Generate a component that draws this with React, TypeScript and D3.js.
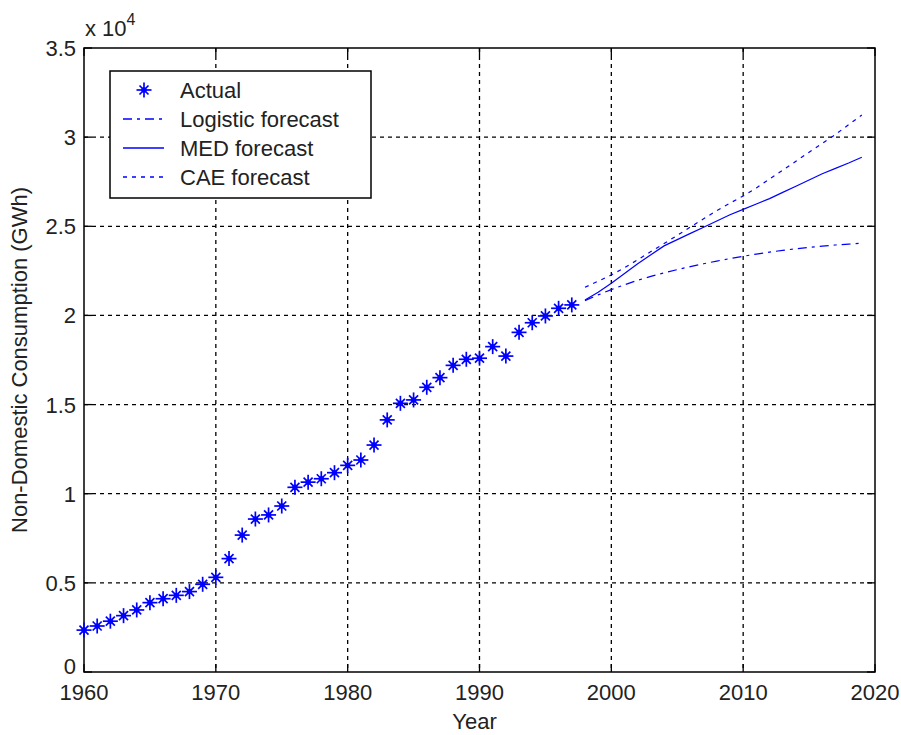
import React, { useEffect, useRef } from 'react';
import * as d3 from 'd3';

// actual consumption 1960-1997 (GWh)
const actualYears = [
  1960, 1961, 1962, 1963, 1964, 1965, 1966, 1967, 1968, 1969,
  1970, 1971, 1972, 1973, 1974, 1975, 1976, 1977, 1978, 1979,
  1980, 1981, 1982, 1983, 1984, 1985, 1986, 1987, 1988, 1989,
  1990, 1991, 1992, 1993, 1994, 1995, 1996, 1997,
];
const actualValues = [
  2350, 2580, 2850, 3160, 3480, 3890, 4110, 4300, 4510, 4920,
  5310, 6360, 7680, 8580, 8810, 9310, 10360, 10650, 10840, 11180,
  11590, 11890, 12730, 14140, 15070, 15260, 15970, 16510, 17200, 17540,
  17600, 18250, 17720, 19050, 19590, 19970, 20400, 20590,
];

// forecasts 1998-2019
const forecastYears = [
  1998, 1999, 2000, 2001, 2002, 2003, 2004, 2005, 2006, 2007, 2008,
  2009, 2010, 2011, 2012, 2013, 2014, 2015, 2016, 2017, 2018, 2019,
];
const logisticValues = [
  20830, 21150, 21450, 21720, 21970, 22190, 22390, 22570, 22740, 22900, 23050,
  23190, 23320, 23440, 23550, 23650, 23740, 23820, 23890, 23950, 24000, 24050,
];
const medValues = [
  20870, 21300, 21800, 22350, 22900, 23400, 23900, 24250, 24600, 24950, 25300,
  25650, 25950, 26250, 26550, 26900, 27250, 27600, 27950, 28250, 28550, 28870,
];
const caeValues = [
  21580, 21920, 22270, 22680, 23120, 23580, 24030, 24490, 24960, 25420, 25880,
  26300, 26700, 27150, 27650, 28150, 28650, 29150, 29650, 30150, 30700, 31240,
];

const xTicks = [1960, 1970, 1980, 1990, 2000, 2010, 2020];
const yTicks = [0, 5000, 10000, 15000, 20000, 25000, 30000, 35000];
const legendLabels = ['Actual', 'Logistic forecast', 'MED forecast', 'CAE forecast'];

const BLUE = '#0000ff';
const FONT = '"Liberation Sans", Arial, sans-serif';
const FS = 22;
const logisticDash = '9,5,3,5';
const caeDash = '4,5';

const App = () => {
  const ref = useRef<HTMLDivElement>(null);

  useEffect(() => {
    if (!ref.current) return;
    d3.select(ref.current).selectAll('svg').remove();

    const W = 901;
    const H = 735;
    const margin = { top: 48, right: 26, bottom: 63, left: 84 };
    const width = W - margin.left - margin.right;
    const height = H - margin.top - margin.bottom;

    const svg = d3.select(ref.current)
      .append('svg')
      .attr('width', W)
      .attr('height', H)
      .style('position', 'absolute')
      .style('left', '0px')
      .style('top', '0px')
      .style('background', '#fff')
      .style('font-family', FONT);

    const g = svg.append('g').attr('transform', `translate(${margin.left},${margin.top})`);

    const x = d3.scaleLinear().domain([1960, 2020]).range([0, width]);
    const y = d3.scaleLinear().domain([0, 35000]).range([height, 0]);

    // grid
    g.selectAll('.gx')
      .data(xTicks.slice(1, -1))
      .enter()
      .append('line')
      .attr('x1', d => x(d)).attr('x2', d => x(d))
      .attr('y1', 0).attr('y2', height)
      .attr('stroke', '#000').attr('stroke-width', 1.3)
      .attr('stroke-dasharray', '4,4');
    g.selectAll('.gy')
      .data(yTicks.slice(1, -1))
      .enter()
      .append('line')
      .attr('y1', d => y(d)).attr('y2', d => y(d))
      .attr('x1', 0).attr('x2', width)
      .attr('stroke', '#000').attr('stroke-width', 1.3)
      .attr('stroke-dasharray', '4,4');

    // box + inside ticks
    g.append('rect')
      .attr('width', width).attr('height', height)
      .attr('fill', 'none').attr('stroke', '#000').attr('stroke-width', 1.5);

    const tl = 8;
    xTicks.forEach(t => {
      g.append('line').attr('x1', x(t)).attr('x2', x(t)).attr('y1', height).attr('y2', height - tl)
        .attr('stroke', '#000').attr('stroke-width', 1.3);
      g.append('line').attr('x1', x(t)).attr('x2', x(t)).attr('y1', 0).attr('y2', tl)
        .attr('stroke', '#000').attr('stroke-width', 1.3);
    });
    yTicks.forEach(t => {
      g.append('line').attr('x1', 0).attr('x2', tl).attr('y1', y(t)).attr('y2', y(t))
        .attr('stroke', '#000').attr('stroke-width', 1.3);
      g.append('line').attr('x1', width).attr('x2', width - tl).attr('y1', y(t)).attr('y2', y(t))
        .attr('stroke', '#000').attr('stroke-width', 1.3);
    });

    // tick labels
    g.selectAll('.xl')
      .data(xTicks)
      .enter()
      .append('text')
      .attr('x', d => x(d))
      .attr('y', height + 28)
      .attr('text-anchor', 'middle')
      .attr('font-size', FS)
      .attr('fill', '#222')
      .text(d => d);
    g.selectAll('.yl')
      .data(yTicks)
      .enter()
      .append('text')
      .attr('x', -8)
      .attr('y', d => y(d) + (d === 0 ? 2 : 8))
      .attr('text-anchor', 'end')
      .attr('font-size', FS)
      .attr('fill', '#222')
      .text(d => String(d / 10000));

    // exponent
    const ex = svg.append('text').attr('x', 85).attr('y', 36).attr('font-size', FS).attr('fill', '#222');
    ex.append('tspan').text('x 10');
    ex.append('tspan').attr('dy', -11).attr('font-size', 16).text('4');

    // axis titles
    svg.append('text')
      .attr('x', margin.left + width / 2 - 5)
      .attr('y', 729)
      .attr('text-anchor', 'middle')
      .attr('font-size', FS)
      .attr('fill', '#222')
      .text('Year');
    svg.append('text')
      .attr('transform', `translate(27,${margin.top + height / 2}) rotate(-90)`)
      .attr('text-anchor', 'middle')
      .attr('font-size', FS)
      .attr('fill', '#222')
      .text('Non-Domestic Consumption (GWh)');

    // forecast lines
    const line = d3.line<number>()
      .x((_, i) => x(forecastYears[i]))
      .y(d => y(d));

    const series = [
      { values: logisticValues, dash: logisticDash },
      { values: medValues, dash: null },
      { values: caeValues, dash: caeDash },
    ];
    series.forEach(s => {
      g.append('path')
        .attr('d', line(s.values))
        .attr('fill', 'none')
        .attr('stroke', BLUE)
        .attr('stroke-width', 1.2)
        .attr('stroke-dasharray', s.dash);
    });

    // star marker like matlab '*'
    const star = (sel, cx, cy) => {
      const a = 7.5;
      const b = 4.5;
      const p = sel.append('g').attr('transform', `translate(${cx},${cy})`)
        .attr('stroke', BLUE).attr('stroke-width', 1.7);
      p.append('line').attr('x1', -a).attr('x2', a).attr('y1', 0).attr('y2', 0);
      p.append('line').attr('x1', 0).attr('x2', 0).attr('y1', -a).attr('y2', a);
      p.append('line').attr('x1', -b).attr('x2', b).attr('y1', -b).attr('y2', b);
      p.append('line').attr('x1', -b).attr('x2', b).attr('y1', b).attr('y2', -b);
      p.append('circle').attr('r', 2.7).attr('fill', BLUE).attr('stroke', 'none');
    };
    actualValues.forEach((v, i) => star(g, x(actualYears[i]), y(v)));

    // legend
    const lg = svg.append('g');
    lg.append('rect')
      .attr('x', 110).attr('y', 71).attr('width', 261).attr('height', 127)
      .attr('fill', '#fff').attr('stroke', '#000').attr('stroke-width', 1.5);
    const rowY = [90, 119, 148, 177];
    legendLabels.forEach((lbl, i) => {
      if (i === 0) {
        star(lg, 144, rowY[i]);
      } else {
        lg.append('line')
          .attr('x1', 123).attr('x2', 164)
          .attr('y1', rowY[i]).attr('y2', rowY[i])
          .attr('stroke', BLUE).attr('stroke-width', 1.3)
          .attr('stroke-dasharray', series[i - 1].dash);
      }
      lg.append('text')
        .attr('x', 180).attr('y', rowY[i] + 8)
        .attr('font-size', FS)
        .attr('fill', '#222')
        .text(lbl);
    });
  }, []);

  return <div ref={ref}></div>;
};

export default App;
